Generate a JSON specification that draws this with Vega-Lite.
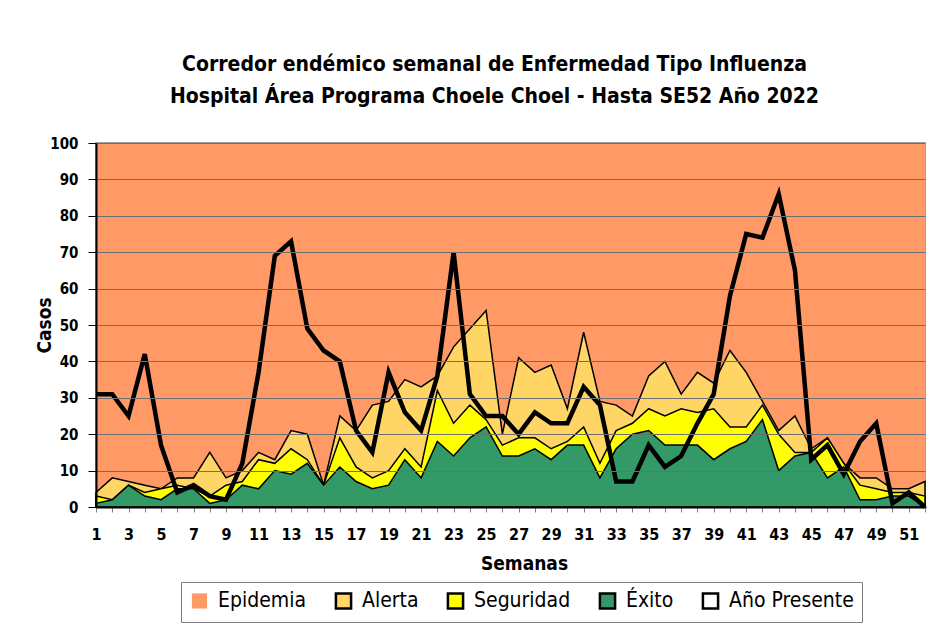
{
  "$schema": "https://vega.github.io/schema/vega-lite/v6.json",
  "autosize": "none",
  "width": 829,
  "height": 364,
  "padding": {"left": 96, "top": 143, "right": 14, "bottom": 129},
  "background": "white",
  "title": {
    "text": ["Corredor endémico semanal de Enfermedad Tipo Influenza", "Hospital Área Programa Choele Choel - Hasta SE52 Año 2022"],
    "font": "DejaVu Sans Condensed",
    "fontSize": 21,
    "fontWeight": "bold",
    "lineHeight": 32,
    "anchor": "middle",
    "dx": -16,
    "offset": 29,
    "color": "black"
  },
  "data": {
    "values": [
      {"semana": 1, "alerta": 4, "seguridad": 3, "exito": 1, "presente": 31},
      {"semana": 2, "alerta": 8, "seguridad": 2, "exito": 2, "presente": 31},
      {"semana": 3, "alerta": 7, "seguridad": 6, "exito": 6, "presente": 25},
      {"semana": 4, "alerta": 6, "seguridad": 4, "exito": 3, "presente": 42},
      {"semana": 5, "alerta": 5, "seguridad": 5, "exito": 2, "presente": 17},
      {"semana": 6, "alerta": 8, "seguridad": 6, "exito": 5, "presente": 4},
      {"semana": 7, "alerta": 8, "seguridad": 5, "exito": 5, "presente": 6},
      {"semana": 8, "alerta": 15, "seguridad": 3, "exito": 1, "presente": 3},
      {"semana": 9, "alerta": 8, "seguridad": 6, "exito": 2, "presente": 2},
      {"semana": 10, "alerta": 10, "seguridad": 7, "exito": 6, "presente": 12},
      {"semana": 11, "alerta": 15, "seguridad": 13, "exito": 5, "presente": 37},
      {"semana": 12, "alerta": 13, "seguridad": 12, "exito": 10, "presente": 69},
      {"semana": 13, "alerta": 21, "seguridad": 16, "exito": 9, "presente": 73},
      {"semana": 14, "alerta": 20, "seguridad": 13, "exito": 12, "presente": 49},
      {"semana": 15, "alerta": 6, "seguridad": 6, "exito": 6, "presente": 43},
      {"semana": 16, "alerta": 25, "seguridad": 19, "exito": 11, "presente": 40},
      {"semana": 17, "alerta": 21, "seguridad": 11, "exito": 7, "presente": 21},
      {"semana": 18, "alerta": 28, "seguridad": 8, "exito": 5, "presente": 15},
      {"semana": 19, "alerta": 29, "seguridad": 10, "exito": 6, "presente": 37},
      {"semana": 20, "alerta": 35, "seguridad": 16, "exito": 13, "presente": 26},
      {"semana": 21, "alerta": 33, "seguridad": 11, "exito": 8, "presente": 21},
      {"semana": 22, "alerta": 36, "seguridad": 32, "exito": 18, "presente": 36},
      {"semana": 23, "alerta": 44, "seguridad": 23, "exito": 14, "presente": 70},
      {"semana": 24, "alerta": 49, "seguridad": 28, "exito": 19, "presente": 31},
      {"semana": 25, "alerta": 54, "seguridad": 24, "exito": 22, "presente": 25},
      {"semana": 26, "alerta": 20, "seguridad": 17, "exito": 14, "presente": 25},
      {"semana": 27, "alerta": 41, "seguridad": 19, "exito": 14, "presente": 20},
      {"semana": 28, "alerta": 37, "seguridad": 19, "exito": 16, "presente": 26},
      {"semana": 29, "alerta": 39, "seguridad": 16, "exito": 13, "presente": 23},
      {"semana": 30, "alerta": 27, "seguridad": 18, "exito": 17, "presente": 23},
      {"semana": 31, "alerta": 48, "seguridad": 22, "exito": 17, "presente": 33},
      {"semana": 32, "alerta": 29, "seguridad": 12, "exito": 8, "presente": 28},
      {"semana": 33, "alerta": 28, "seguridad": 21, "exito": 16, "presente": 7},
      {"semana": 34, "alerta": 25, "seguridad": 23, "exito": 20, "presente": 7},
      {"semana": 35, "alerta": 36, "seguridad": 27, "exito": 21, "presente": 17},
      {"semana": 36, "alerta": 40, "seguridad": 25, "exito": 17, "presente": 11},
      {"semana": 37, "alerta": 31, "seguridad": 27, "exito": 17, "presente": 14},
      {"semana": 38, "alerta": 37, "seguridad": 26, "exito": 17, "presente": 23},
      {"semana": 39, "alerta": 34, "seguridad": 27, "exito": 13, "presente": 31},
      {"semana": 40, "alerta": 43, "seguridad": 22, "exito": 16, "presente": 58},
      {"semana": 41, "alerta": 37, "seguridad": 22, "exito": 18, "presente": 75},
      {"semana": 42, "alerta": 29, "seguridad": 28, "exito": 24, "presente": 74},
      {"semana": 43, "alerta": 21, "seguridad": 20, "exito": 10, "presente": 86},
      {"semana": 44, "alerta": 25, "seguridad": 15, "exito": 14, "presente": 65},
      {"semana": 45, "alerta": 16, "seguridad": 15, "exito": 15, "presente": 13},
      {"semana": 46, "alerta": 19, "seguridad": 19, "exito": 8, "presente": 17},
      {"semana": 47, "alerta": 12, "seguridad": 12, "exito": 11, "presente": 9},
      {"semana": 48, "alerta": 8, "seguridad": 6, "exito": 2, "presente": 18},
      {"semana": 49, "alerta": 8, "seguridad": 5, "exito": 2, "presente": 23},
      {"semana": 50, "alerta": 5, "seguridad": 4, "exito": 3, "presente": 1},
      {"semana": 51, "alerta": 5, "seguridad": 4, "exito": 3, "presente": 4},
      {"semana": 52, "alerta": 7, "seguridad": 3, "exito": 0, "presente": 0}
    ]
  },
  "encoding": {
    "x": {
      "field": "semana",
      "type": "quantitative",
      "scale": {"domain": [1, 52], "nice": false, "zero": false},
      "axis": {
        "title": "Semanas",
        "values": [1,2,3,4,5,6,7,8,9,10,11,12,13,14,15,16,17,18,19,20,21,22,23,24,25,26,27,28,29,30,31,32,33,34,35,36,37,38,39,40,41,42,43,44,45,46,47,48,49,50,51,52],
        "labelExpr": "datum.value % 2 === 1 ? datum.label : ''",
        "grid": false,
        "zindex": 1,
        "domainColor": "black",
        "domainWidth": 2,
        "tickColor": "#808080",
        "tickSize": 5,
        "labelFont": "DejaVu Sans Condensed",
        "labelFontSize": 16,
        "labelFontWeight": "bold",
        "labelColor": "black",
        "labelPadding": 14,
        "labelOverlap": false,
        "labelFlush": false,
        "titleFont": "DejaVu Sans Condensed",
        "titleFontSize": 19,
        "titleFontWeight": "bold",
        "titleColor": "black",
        "titlePadding": 12,
        "titleX": 428
      }
    },
    "y": {
      "type": "quantitative",
      "scale": {"domain": [0, 100], "nice": false},
      "axis": {
        "title": "Casos",
        "values": [0,10,20,30,40,50,60,70,80,90,100],
        "labelOverlap": false,
        "grid": true,
        "zindex": 1,
        "gridColor": "#6e6e6e",
        "gridWidth": 1,
        "domainColor": "black",
        "domainWidth": 2,
        "tickColor": "black",
        "tickSize": 8,
        "labelFont": "DejaVu Sans Condensed",
        "labelFontSize": 15,
        "labelFontWeight": "bold",
        "labelColor": "black",
        "labelPadding": 10,
        "titleFont": "DejaVu Sans Condensed",
        "titleFontSize": 19,
        "titleFontWeight": "bold",
        "titleColor": "black",
        "titleX": -42
      }
    },
    "color": {
      "type": "nominal",
      "scale": {
        "domain": ["Epidemia", "Alerta", "Seguridad", "Éxito", "Año Presente"],
        "range": ["#FF9966", "#FFD666", "#FFFF00", "#339966", "#FFFFFF"]
      },
      "legend": {
        "title": null,
        "orient": "none",
        "legendX": 85,
        "legendY": 439,
        "direction": "horizontal",
        "symbolType": "square",
        "symbolSize": 230,
        "symbolStrokeWidth": 2.5,
        "labelFont": "DejaVu Sans Condensed",
        "labelFontSize": 21,
        "labelColor": "black",
        "labelOffset": 8,
        "columnPadding": 23,
        "padding": 8,
        "strokeColor": "#808080",
        "fillColor": "white"
      }
    },
    "stroke": {
      "type": "nominal",
      "scale": {
        "domain": ["Epidemia", "Alerta", "Seguridad", "Éxito", "Año Presente"],
        "range": ["transparent", "#000000", "#000000", "#000000", "#000000"]
      },
      "legend": {
        "title": null,
        "orient": "none",
        "legendX": 85,
        "legendY": 439,
        "direction": "horizontal",
        "symbolType": "square",
        "symbolSize": 230,
        "symbolStrokeWidth": 2.5,
        "labelFont": "DejaVu Sans Condensed",
        "labelFontSize": 21,
        "labelColor": "black",
        "labelOffset": 8,
        "columnPadding": 23,
        "padding": 8,
        "strokeColor": "#808080",
        "fillColor": "white"
      }
    }
  },
  "layer": [
    {
      "mark": {"type": "area", "clip": true},
      "encoding": {
        "y": {"datum": 100},
        "color": {"datum": "Epidemia"},
        "stroke": {"datum": "Epidemia"}
      }
    },
    {
      "mark": {"type": "area", "strokeWidth": 1.5},
      "encoding": {
        "y": {"field": "alerta"},
        "color": {"datum": "Alerta"},
        "stroke": {"datum": "Alerta"}
      }
    },
    {
      "mark": {"type": "area", "strokeWidth": 1.5},
      "encoding": {
        "y": {"field": "seguridad"},
        "color": {"datum": "Seguridad"},
        "stroke": {"datum": "Seguridad"}
      }
    },
    {
      "mark": {"type": "area", "strokeWidth": 1.5},
      "encoding": {
        "y": {"field": "exito"},
        "color": {"datum": "Éxito"},
        "stroke": {"datum": "Éxito"}
      }
    },
    {
      "mark": {"type": "line", "strokeWidth": 4.5, "strokeJoin": "miter"},
      "encoding": {
        "y": {"field": "presente"},
        "stroke": {"datum": "Año Presente"}
      }
    }
  ],
  "config": {
    "view": {"stroke": "#808080", "strokeWidth": 1.5}
  }
}
